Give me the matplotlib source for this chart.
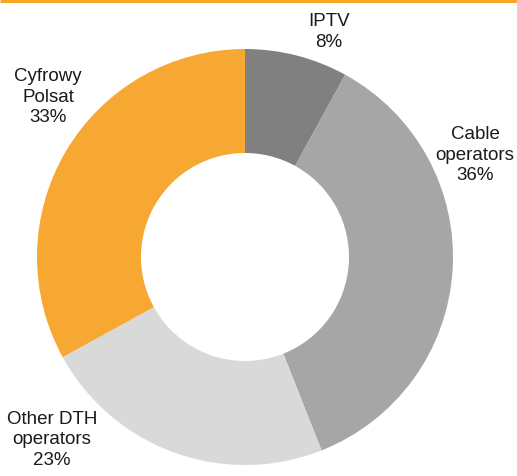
import matplotlib
matplotlib.use('Agg')
import matplotlib.pyplot as plt

# ── Data ───────────────────────────────────────────────────────────
labels = ["IPTV", "Cable\noperators", "Other DTH\noperators", "Cyfrowy\nPolsat"]
shares = [8, 36, 23, 33]
colors = ["#808080", "#a6a6a6", "#d9d9d9", "#f7a833"]

W, H = 517, 477
fig = plt.figure(figsize=(W / 100, H / 100), dpi=100)
ax = fig.add_axes([0, 0, 1, 1])

cx, cy, r = 245, H - 258, 208
ax.pie(shares, colors=colors, startangle=90, counterclock=False,
       center=(cx, cy), radius=r, frame=True,
       wedgeprops=dict(width=r * 0.5, linewidth=0))
ax.set_xlim(0, W)
ax.set_ylim(0, H)
ax.set_aspect("equal")
ax.axis("off")

# label positions (pixel coords of text centre)
label_pos = [(329, 32), (475, 155), (52, 440), (48, 97)]
for lab, s, (px, py) in zip(labels, shares, label_pos):
    ax.text(px, H - py, f"{lab}\n{s}%", ha="center", va="center",
            fontsize=13.5, family="Liberation Sans",
            color="#1a1a1a", linespacing=1.3)

# orange rule at the top
ax.plot([0, W], [H - 1.5, H - 1.5], color="#f5a623", lw=2.2,
        solid_capstyle="butt")

fig.savefig("out.png", dpi=100)
